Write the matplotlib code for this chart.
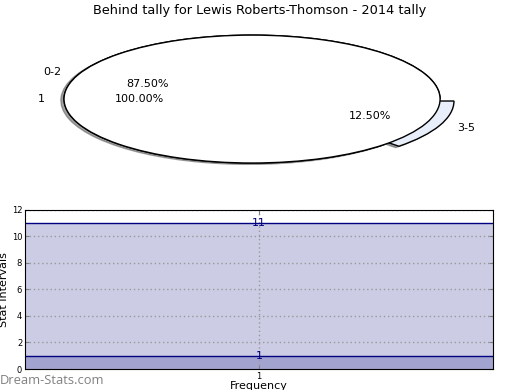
import matplotlib
matplotlib.use('Agg')
import matplotlib.pyplot as plt

# pie data (outer ring = stat intervals, inner = frequency)
interval_labels = ['0-2', '3-5']
interval_counts = [7, 1]
interval_explode = [0, 0.08]
freq_labels = ['1']
freq_counts = [1]

# bottom chart data
freq_ticks = [1]
level_values = [11, 1]

navy = '#000080'

fig = plt.figure(figsize=(5.2, 3.9), dpi=100)

# top: two overlaid pies squashed into an ellipse
ax1 = fig.add_axes([0.0327, 0.541, 0.904, 0.410])
wp = dict(edgecolor='black', linewidth=1)
shadow = dict(ox=-0.012, oy=-0.015, shade=0.6, alpha=0.6)
ax1.pie(interval_counts, labels=interval_labels, explode=interval_explode,
        colors=['white', '#e8eefa'], autopct='%.2f%%', shadow=shadow,
        startangle=0, wedgeprops=wp, textprops=dict(fontsize=8))
ax1.pie(freq_counts, labels=freq_labels, colors=['white'], autopct='%.2f%%',
        shadow=False, startangle=0, wedgeprops=wp, textprops=dict(fontsize=8))
ax1.set_aspect('auto')
ax1.set_xlim(-1.25, 1.25)
ax1.set_ylim(-1.25, 1.25)
fig.text(0.5, 0.973, 'Behind tally for Lewis Roberts-Thomson - 2014 tally',
         ha='center', va='center', fontsize=9.3)

# bottom: filled levels
ax2 = fig.add_axes([0.048, 0.0538, 0.9, 0.408])
for v in level_values:
    ax2.fill_between([0, 2], 0, v, color=navy, alpha=0.2, linewidth=0)
    ax2.axhline(v, color=navy, linewidth=1)
    ax2.text(freq_ticks[0], v, str(v), color=navy, ha='center', va='center',
             fontsize=8)
ax2.set_xlim(0, 2)
ax2.set_ylim(0, 12)
ax2.set_xticks(freq_ticks)
ax2.set_yticks(range(0, 13, 2))
ax2.tick_params(direction='in', length=3, color='gray', labelsize=6,
                top=True, right=True, pad=2)
ax2.grid(True, linestyle=(0, (1, 2)), color='#999999', linewidth=1)
ax2.set_xlabel('Frequency', fontsize=8, labelpad=0)
ax2.set_ylabel('Stat Intervals', fontsize=8, labelpad=2)

fig.text(0.0, 0.025, 'Dream-Stats.com', color='#808080', fontsize=9.3,
         family='Open Sans', ha='left', va='center')

fig.savefig('out.png', dpi=100)
